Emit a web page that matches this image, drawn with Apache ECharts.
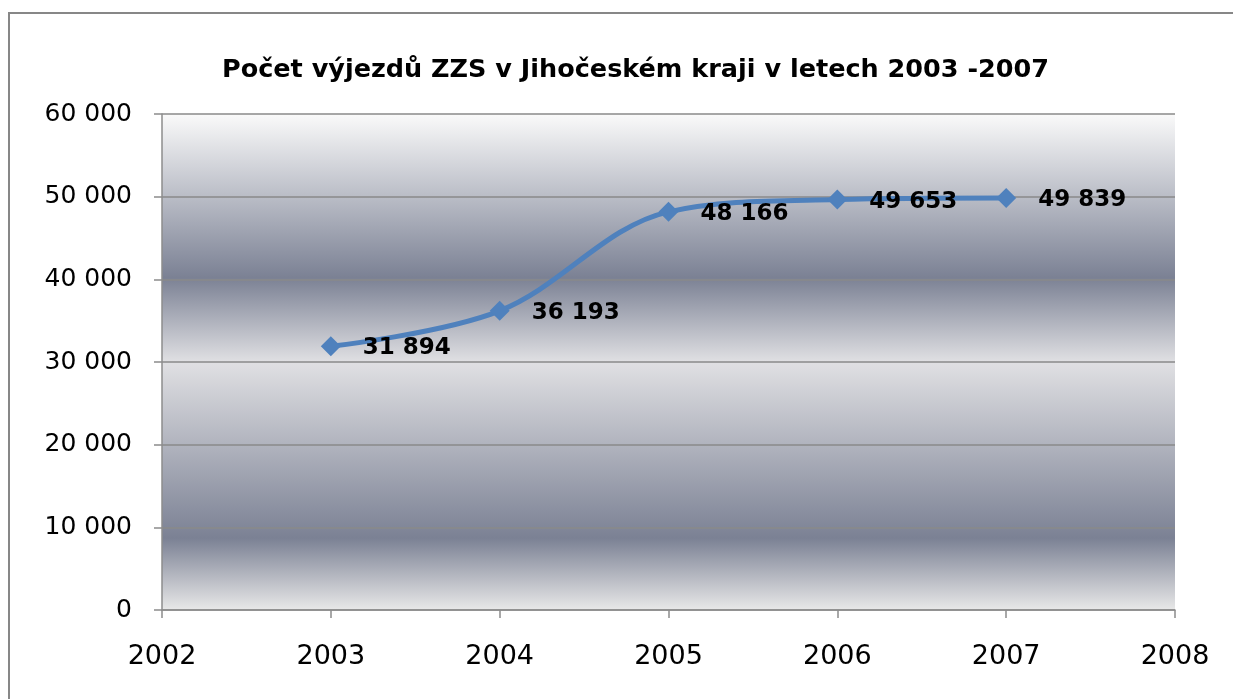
<!DOCTYPE html>
<html>
<head>
<meta charset="utf-8">
<script src="https://cdn.jsdelivr.net/npm/echarts@6/dist/echarts.min.js"></script>
<style>
  html, body { margin: 0; padding: 0; background: #fff; }
  #chart { width: 1233px; height: 699px; }
</style>
</head>
<body>
<div id="chart"></div>
<script>
var years = [2003, 2004, 2005, 2006, 2007];
var vyjezdy = [31894, 36193, 48166, 49653, 49839];

function fmt(v) {
    return String(v).replace(/\B(?=(\d{3})+(?!\d))/g, ' ');
}

var chart = echarts.init(document.getElementById('chart'));

var points = [];
for (var i in years) {
    points.push([years[i], vyjezdy[i]]);
}

var bg = new echarts.graphic.LinearGradient(0, 0, 0, 1, [
    {offset: 0, color: '#fafafa'},
    {offset: 0.33, color: '#7b8194'},
    {offset: 0.5, color: '#e0e0e3'},
    {offset: 0.855, color: '#7b8194'},
    {offset: 1, color: '#e8e8e8'}
]);

var option = {
    backgroundColor: '#fff',
    textStyle: {fontFamily: 'DejaVu Sans'},
    title: {
        text: 'Počet výjezdů ZZS v Jihočeském kraji v letech 2003 -2007',
        left: 217,
        top: 52,
        textStyle: {fontSize: 25.5, fontWeight: 'bold', color: '#000', fontFamily: 'DejaVu Sans'}
    },
    graphic: [{
        type: 'rect',
        shape: {x: 9, y: 13, width: 1240, height: 720},
        style: {fill: 'none', stroke: '#878787', lineWidth: 2},
        silent: true
    }],
    grid: {
        left: 162, right: 58, top: 114, bottom: 89,
        show: true,
        backgroundColor: bg,
        borderWidth: 0
    },
    xAxis: {
        type: 'value',
        min: 2002, max: 2008, interval: 1,
        axisLine: {show: true, lineStyle: {color: '#8c8c8c', width: 1.5}},
        axisTick: {show: true, length: 8, lineStyle: {color: '#8c8c8c', width: 1.5}},
        axisLabel: {fontSize: 27, color: '#000', margin: 33, formatter: function (v) { return String(v); }},
        splitLine: {show: false}
    },
    yAxis: {
        type: 'value',
        min: 0, max: 60000, interval: 10000,
        axisLine: {show: true, lineStyle: {color: '#8c8c8c', width: 1.5}},
        axisTick: {show: true, length: 8, inside: false, lineStyle: {color: '#8c8c8c', width: 1.5}},
        axisLabel: {fontSize: 25, color: '#000', margin: 30, formatter: fmt},
        splitLine: {show: true, lineStyle: {color: '#8a8a8a', width: 1.5}}
    },
    series: [{
        type: 'line',
        data: points,
        smooth: 0.35,
        symbol: 'diamond',
        symbolSize: [20, 20],
        lineStyle: {color: '#4f81bd', width: 5},
        itemStyle: {color: '#4f81bd'},
        label: {
            show: true,
            position: 'right',
            distance: 22,
            offset: [0, 2],
            fontSize: 23,
            fontWeight: 'bold',
            color: '#000',
            formatter: function (p) { return fmt(p.value[1]); }
        }
    }]
};

chart.setOption(option);
</script>
</body>
</html>
